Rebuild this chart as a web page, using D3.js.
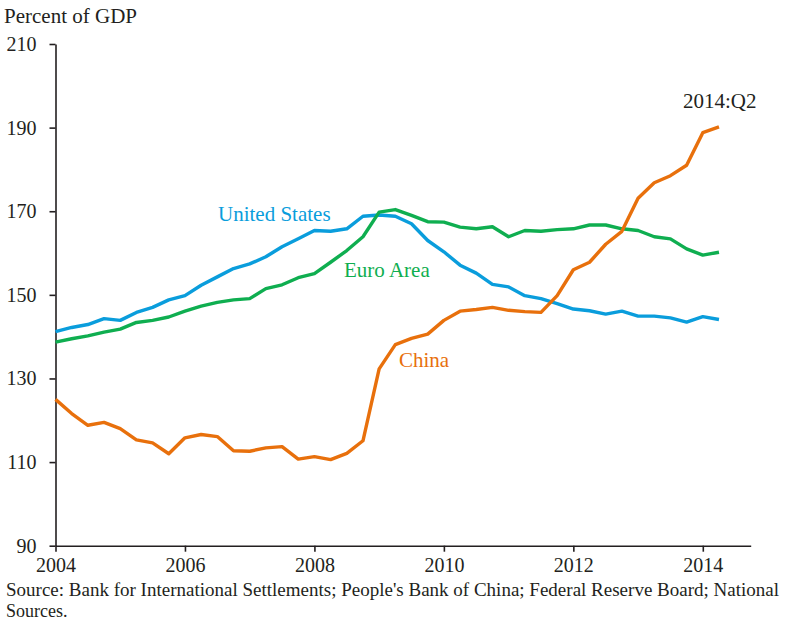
<!DOCTYPE html>
<html>
<head>
<meta charset="utf-8">
<script src="https://cdn.jsdelivr.net/npm/d3@7"></script>
<style>
  body { margin: 0; background: #fff; }
  svg text { font-family: "Liberation Serif", "Times New Roman", serif; }
</style>
</head>
<body>
<svg id="chart" width="785" height="623"></svg>
<script>
// quarterly, 2004:Q1 .. 2014:Q2
var firstYear = 2004;
var usDebt = [141.2, 142.2, 142.9, 144.3, 143.9, 145.8, 147.0, 148.8, 149.8, 152.3,
  154.3, 156.3, 157.4, 159.1, 161.5, 163.4, 165.4, 165.2, 165.8, 168.8,
  169.1, 168.8, 167.0, 163.0, 160.3, 157.1, 155.2, 152.5, 151.9, 149.8,
  149.1, 147.9, 146.6, 146.2, 145.4, 146.1, 144.9, 144.9, 144.5, 143.5,
  144.8, 144.1];
var euroDebt = [138.7, 139.5, 140.2, 141.1, 141.8, 143.4, 143.9, 144.7, 146.1, 147.3,
  148.2, 148.8, 149.1, 151.5, 152.4, 154.1, 155.1, 157.8, 160.6, 163.9,
  169.8, 170.4, 169.0, 167.5, 167.4, 166.2, 165.8, 166.3, 163.9, 165.4,
  165.2, 165.6, 165.8, 166.7, 166.7, 165.8, 165.4, 163.9, 163.4, 161.0,
  159.5, 160.2];
var chinaDebt = [125.0, 121.6, 118.8, 119.5, 118.0, 115.3, 114.6, 112.0, 115.8, 116.6,
  116.1, 112.7, 112.6, 113.4, 113.7, 110.7, 111.3, 110.6, 112.1, 115.1,
  132.3, 138.1, 139.6, 140.6, 143.9, 146.1, 146.5, 147.0, 146.3, 146.0,
  145.8, 149.8, 156.0, 157.8, 162.1, 165.2, 173.1, 176.8, 178.5, 181.0,
  188.8, 190.2];
var yTicks = [90, 110, 130, 150, 170, 190, 210];
var xTicks = [2004, 2006, 2008, 2010, 2012, 2014];

var svg = d3.select("#chart");

var x = d3.scaleLinear().domain([2004, 2014.74]).range([55.5, 750.7]);
var y = d3.scaleLinear().domain([90, 210]).range([545.7, 44]);

var series = [
  {name: "United States", values: usDebt, color: "#0a9ddc", lx: 218, ly: 221},
  {name: "Euro Area", values: euroDebt, color: "#0fae50", lx: 344, ly: 277},
  {name: "China", values: chinaDebt, color: "#e8700c", lx: 399, ly: 367}
];

var line = d3.line()
  .x(function(d, i) { return x(firstYear + i / 4); })
  .y(function(d) { return y(d); });

// axes
var yAxis = svg.append("g")
  .attr("transform", "translate(55.5,0)")
  .call(d3.axisLeft(y).tickValues(yTicks).tickSize(6).tickSizeOuter(0).tickPadding(13));
var xAxis = svg.append("g")
  .attr("transform", "translate(0,545.7)")
  .call(d3.axisBottom(x).tickValues(xTicks).tickFormat(d3.format("d")).tickSize(6).tickSizeOuter(0).tickPadding(6));

svg.selectAll(".domain, .tick line").attr("stroke", "#231f20").attr("stroke-width", 1.6);
svg.selectAll(".tick text")
  .attr("fill", "#231f20")
  .style("font-family", "'Liberation Serif', serif")
  .style("font-size", "20px");

series.forEach(function(s) {
  svg.append("path")
    .datum(s.values)
    .attr("fill", "none")
    .attr("stroke", s.color)
    .attr("stroke-width", 3.4)
    .attr("stroke-linejoin", "round")
    .attr("d", line);
  svg.append("text")
    .attr("x", s.lx).attr("y", s.ly)
    .attr("fill", s.color)
    .style("font-size", "21px")
    .text(s.name);
});

svg.append("text").attr("x", 683).attr("y", 108)
  .attr("fill", "#231f20").style("font-size", "21px").text("2014:Q2");

svg.append("text").attr("x", 4).attr("y", 23)
  .attr("fill", "#231f20").style("font-size", "21px").text("Percent of GDP");

svg.append("text").attr("x", 6).attr("y", 596)
  .attr("fill", "#231f20").style("font-size", "18px")
  .attr("textLength", 773).attr("lengthAdjust", "spacingAndGlyphs")
  .text("Source: Bank for International Settlements; People's Bank of China; Federal Reserve Board; National");
svg.append("text").attr("x", 6).attr("y", 617)
  .attr("fill", "#231f20").style("font-size", "18px")
  .text("Sources.");
</script>
</body>
</html>
